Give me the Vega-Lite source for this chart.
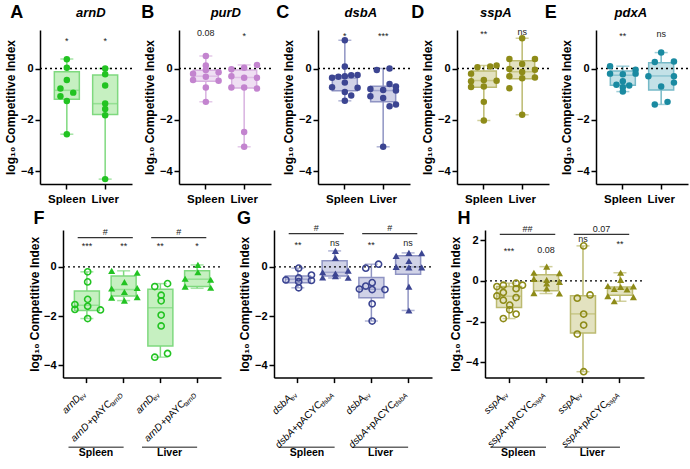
{
"$schema":"https://vega.github.io/schema/vega-lite/v6.json",
"padding":{"left":4,"top":4,"right":2,"bottom":4},
"spacing":5,
"config":{"font":"Liberation Sans","view":{"stroke":null},
"axis":{"grid":false,"domainColor":"black","domainWidth":1.5,"tickColor":"black","tickWidth":1.5,"tickSize":5,"labelColor":"black","labelFont":"Liberation Sans","labelFontWeight":"bold","labelFontSize":11,"titleFont":"Liberation Sans","titleFontSize":12,"titleFontWeight":"bold","titleColor":"black"},
"axisY":{"labelPadding":2,"titlePadding":3},
"axisX":{"labelAngle":0,"labelFontSize":11.5,"labelPadding":4},
"text":{"font":"Liberation Sans"}},
"datasets":{
"box":[
{"p":"A","g":"Spleen","lo":-2.56,"q1":-1.2,"med":-0.85,"q3":-0.13,"hi":0.37},
{"p":"A","g":"Liver","lo":-4.31,"q1":-1.79,"med":-1.37,"q3":-0.25,"hi":0.0},
{"p":"B","g":"Spleen","lo":-1.3,"q1":-0.5,"med":-0.3,"q3":-0.07,"hi":0.49},
{"p":"B","g":"Liver","lo":-3.05,"q1":-0.76,"med":-0.35,"q3":-0.06,"hi":0.14},
{"p":"C","g":"Spleen","lo":-1.26,"q1":-0.87,"med":-0.38,"q3":-0.28,"hi":1.1},
{"p":"C","g":"Liver","lo":-3.05,"q1":-1.3,"med":-0.86,"q3":-0.69,"hi":0.0},
{"p":"D","g":"Spleen","lo":-2.03,"q1":-0.73,"med":-0.47,"q3":-0.1,"hi":0.12},
{"p":"D","g":"Liver","lo":-1.8,"q1":-0.4,"med":-0.13,"q3":0.3,"hi":1.18},
{"p":"E","g":"Spleen","lo":-0.9,"q1":-0.65,"med":-0.26,"q3":-0.1,"hi":0.09},
{"p":"E","g":"Liver","lo":-1.4,"q1":-0.84,"med":-0.29,"q3":0.22,"hi":0.62},
{"p":"F","g":"Sev","lo":-2.1,"q1":-1.77,"med":-1.56,"q3":-0.98,"hi":-0.2},
{"p":"F","g":"Scomp","lo":-1.37,"q1":-1.18,"med":-0.92,"q3":-0.37,"hi":-0.16},
{"p":"F","g":"Lev","lo":-3.67,"q1":-3.22,"med":-1.66,"q3":-0.91,"hi":-0.68},
{"p":"F","g":"Lcomp","lo":-0.87,"q1":-0.8,"med":-0.5,"q3":-0.16,"hi":0.08},
{"p":"G","g":"Sev","lo":-0.85,"q1":-0.64,"med":-0.5,"q3":-0.37,"hi":-0.05},
{"p":"G","g":"Scomp","lo":-0.45,"q1":-0.37,"med":-0.22,"q3":0.25,"hi":0.65},
{"p":"G","g":"Lev","lo":-2.2,"q1":-1.25,"med":-0.91,"q3":-0.43,"hi":0.11},
{"p":"G","g":"Lcomp","lo":-1.77,"q1":-0.3,"med":0.0,"q3":0.45,"hi":0.57},
{"p":"H","g":"Sev","lo":-1.85,"q1":-1.31,"med":-0.75,"q3":-0.28,"hi":-0.11},
{"p":"H","g":"Scomp","lo":-0.62,"q1":-0.48,"med":-0.02,"q3":0.3,"hi":0.7},
{"p":"H","g":"Lev","lo":-4.46,"q1":-2.56,"med":-1.62,"q3":-0.73,"hi":1.72},
{"p":"H","g":"Lcomp","lo":-1.0,"q1":-0.7,"med":-0.4,"q3":-0.3,"hi":0.4}
],
"pts":[
{"p":"A","g":"Spleen","v":0.36,"l":0},{"p":"A","g":"Spleen","v":0.03,"l":0},{"p":"A","g":"Spleen","v":-0.45,"l":0},{"p":"A","g":"Spleen","v":-0.78,"l":-1},{"p":"A","g":"Spleen","v":-0.94,"l":1},{"p":"A","g":"Spleen","v":-1.08,"l":-1},{"p":"A","g":"Spleen","v":-1.27,"l":0},{"p":"A","g":"Spleen","v":-2.56,"l":0},
{"p":"A","g":"Liver","v":0.0,"l":0},{"p":"A","g":"Liver","v":-0.22,"l":0},{"p":"A","g":"Liver","v":-0.66,"l":0},{"p":"A","g":"Liver","v":-1.36,"l":0},{"p":"A","g":"Liver","v":-1.58,"l":0},{"p":"A","g":"Liver","v":-1.82,"l":0},{"p":"A","g":"Liver","v":-4.31,"l":0},
{"p":"B","g":"Spleen","v":0.49,"l":0},{"p":"B","g":"Spleen","v":0.12,"l":0},{"p":"B","g":"Spleen","v":-0.06,"l":0},{"p":"B","g":"Spleen","v":-0.2,"l":-2},{"p":"B","g":"Spleen","v":-0.15,"l":2},{"p":"B","g":"Spleen","v":-0.32,"l":0},{"p":"B","g":"Spleen","v":-0.45,"l":-2},{"p":"B","g":"Spleen","v":-0.48,"l":2},{"p":"B","g":"Spleen","v":-0.74,"l":0},{"p":"B","g":"Spleen","v":-1.3,"l":0},
{"p":"B","g":"Liver","v":0.14,"l":2},{"p":"B","g":"Liver","v":0.03,"l":0},{"p":"B","g":"Liver","v":-0.03,"l":-2},{"p":"B","g":"Liver","v":-0.3,"l":-2},{"p":"B","g":"Liver","v":-0.36,"l":0},{"p":"B","g":"Liver","v":-0.36,"l":2},{"p":"B","g":"Liver","v":-0.74,"l":-2},{"p":"B","g":"Liver","v":-0.74,"l":0},{"p":"B","g":"Liver","v":-0.78,"l":2},{"p":"B","g":"Liver","v":-2.47,"l":0},{"p":"B","g":"Liver","v":-3.05,"l":0},
{"p":"C","g":"Spleen","v":1.1,"l":0},{"p":"C","g":"Spleen","v":0.08,"l":0},{"p":"C","g":"Spleen","v":-0.25,"l":2},{"p":"C","g":"Spleen","v":-0.26,"l":1},{"p":"C","g":"Spleen","v":-0.3,"l":0},{"p":"C","g":"Spleen","v":-0.32,"l":-1},{"p":"C","g":"Spleen","v":-0.36,"l":-2},{"p":"C","g":"Spleen","v":-0.55,"l":0},{"p":"C","g":"Spleen","v":-0.73,"l":-2},{"p":"C","g":"Spleen","v":-0.75,"l":2},{"p":"C","g":"Spleen","v":-0.92,"l":0},{"p":"C","g":"Spleen","v":-1.05,"l":1},{"p":"C","g":"Spleen","v":-1.26,"l":0},
{"p":"C","g":"Liver","v":-0.06,"l":-1},{"p":"C","g":"Liver","v":0.0,"l":1},{"p":"C","g":"Liver","v":-0.6,"l":1},{"p":"C","g":"Liver","v":-0.7,"l":2},{"p":"C","g":"Liver","v":-0.8,"l":-2},{"p":"C","g":"Liver","v":-0.84,"l":0},{"p":"C","g":"Liver","v":-0.86,"l":2},{"p":"C","g":"Liver","v":-1.08,"l":-2},{"p":"C","g":"Liver","v":-1.15,"l":0},{"p":"C","g":"Liver","v":-1.4,"l":2},{"p":"C","g":"Liver","v":-1.47,"l":1},{"p":"C","g":"Liver","v":-3.05,"l":0},
{"p":"D","g":"Spleen","v":0.12,"l":2},{"p":"D","g":"Spleen","v":0.08,"l":1},{"p":"D","g":"Spleen","v":0.05,"l":-1},{"p":"D","g":"Spleen","v":-0.2,"l":-2},{"p":"D","g":"Spleen","v":-0.45,"l":0},{"p":"D","g":"Spleen","v":-0.5,"l":-2},{"p":"D","g":"Spleen","v":-0.48,"l":2},{"p":"D","g":"Spleen","v":-0.7,"l":0},{"p":"D","g":"Spleen","v":-0.72,"l":-2},{"p":"D","g":"Spleen","v":-1.3,"l":0},{"p":"D","g":"Spleen","v":-2.03,"l":0},
{"p":"D","g":"Liver","v":1.18,"l":0},{"p":"D","g":"Liver","v":0.37,"l":-2},{"p":"D","g":"Liver","v":0.37,"l":2},{"p":"D","g":"Liver","v":0.18,"l":0},{"p":"D","g":"Liver","v":-0.02,"l":-2},{"p":"D","g":"Liver","v":-0.05,"l":2},{"p":"D","g":"Liver","v":-0.14,"l":0},{"p":"D","g":"Liver","v":-0.3,"l":-2},{"p":"D","g":"Liver","v":-0.35,"l":2},{"p":"D","g":"Liver","v":-0.38,"l":0},{"p":"D","g":"Liver","v":-0.77,"l":-2},{"p":"D","g":"Liver","v":-1.8,"l":0},
{"p":"E","g":"Spleen","v":0.09,"l":-2},{"p":"E","g":"Spleen","v":-0.05,"l":2},{"p":"E","g":"Spleen","v":-0.2,"l":-2},{"p":"E","g":"Spleen","v":-0.22,"l":0},{"p":"E","g":"Spleen","v":-0.2,"l":2},{"p":"E","g":"Spleen","v":-0.5,"l":0},{"p":"E","g":"Spleen","v":-0.63,"l":-1},{"p":"E","g":"Spleen","v":-0.66,"l":1},{"p":"E","g":"Spleen","v":-0.73,"l":0},{"p":"E","g":"Spleen","v":-0.9,"l":0},
{"p":"E","g":"Liver","v":0.62,"l":0},{"p":"E","g":"Liver","v":0.25,"l":-1},{"p":"E","g":"Liver","v":0.27,"l":2},{"p":"E","g":"Liver","v":-0.3,"l":-2},{"p":"E","g":"Liver","v":-0.3,"l":2},{"p":"E","g":"Liver","v":-0.55,"l":2},{"p":"E","g":"Liver","v":-0.7,"l":0},{"p":"E","g":"Liver","v":-1.3,"l":1},{"p":"E","g":"Liver","v":-1.4,"l":-1},
{"p":"F","g":"Sev","v":-0.2,"l":0},{"p":"F","g":"Sev","v":-0.61,"l":0},{"p":"F","g":"Sev","v":-1.32,"l":0},{"p":"F","g":"Sev","v":-1.53,"l":-2},{"p":"F","g":"Sev","v":-1.6,"l":0},{"p":"F","g":"Sev","v":-1.73,"l":-2},{"p":"F","g":"Sev","v":-1.75,"l":2},{"p":"F","g":"Sev","v":-2.1,"l":0},
{"p":"F","g":"Scomp","v":-0.16,"l":-2},{"p":"F","g":"Scomp","v":-0.24,"l":2},{"p":"F","g":"Scomp","v":-0.62,"l":0},{"p":"F","g":"Scomp","v":-0.88,"l":-2},{"p":"F","g":"Scomp","v":-0.86,"l":2},{"p":"F","g":"Scomp","v":-1.02,"l":0},{"p":"F","g":"Scomp","v":-1.25,"l":-2},{"p":"F","g":"Scomp","v":-1.23,"l":2},{"p":"F","g":"Scomp","v":-1.37,"l":0},
{"p":"F","g":"Lev","v":-0.68,"l":1},{"p":"F","g":"Lev","v":-0.8,"l":-1},{"p":"F","g":"Lev","v":-1.15,"l":0},{"p":"F","g":"Lev","v":-1.38,"l":0},{"p":"F","g":"Lev","v":-1.96,"l":0},{"p":"F","g":"Lev","v":-2.4,"l":0},{"p":"F","g":"Lev","v":-3.52,"l":1},{"p":"F","g":"Lev","v":-3.67,"l":-1},
{"p":"F","g":"Lcomp","v":0.08,"l":0},{"p":"F","g":"Lcomp","v":-0.22,"l":0},{"p":"F","g":"Lcomp","v":-0.48,"l":-2},{"p":"F","g":"Lcomp","v":-0.52,"l":2},{"p":"F","g":"Lcomp","v":-0.8,"l":-2},{"p":"F","g":"Lcomp","v":-0.85,"l":2},
{"p":"G","g":"Sev","v":-0.05,"l":0},{"p":"G","g":"Sev","v":-0.33,"l":2},{"p":"G","g":"Sev","v":-0.45,"l":0},{"p":"G","g":"Sev","v":-0.53,"l":-2},{"p":"G","g":"Sev","v":-0.55,"l":2},{"p":"G","g":"Sev","v":-0.6,"l":0},{"p":"G","g":"Sev","v":-0.85,"l":0},
{"p":"G","g":"Scomp","v":0.65,"l":0},{"p":"G","g":"Scomp","v":0.36,"l":0},{"p":"G","g":"Scomp","v":-0.15,"l":2},{"p":"G","g":"Scomp","v":-0.22,"l":-2},{"p":"G","g":"Scomp","v":-0.27,"l":0},{"p":"G","g":"Scomp","v":-0.43,"l":-2},{"p":"G","g":"Scomp","v":-0.44,"l":2},{"p":"G","g":"Scomp","v":-0.38,"l":0},
{"p":"G","g":"Lev","v":0.11,"l":1},{"p":"G","g":"Lev","v":-0.05,"l":-1},{"p":"G","g":"Lev","v":-0.64,"l":0},{"p":"G","g":"Lev","v":-0.78,"l":-1},{"p":"G","g":"Lev","v":-0.9,"l":-2},{"p":"G","g":"Lev","v":-0.92,"l":0},{"p":"G","g":"Lev","v":-0.92,"l":2},{"p":"G","g":"Lev","v":-1.5,"l":0},{"p":"G","g":"Lev","v":-2.2,"l":0},
{"p":"G","g":"Lcomp","v":0.56,"l":2},{"p":"G","g":"Lcomp","v":0.57,"l":0},{"p":"G","g":"Lcomp","v":0.45,"l":-2},{"p":"G","g":"Lcomp","v":0.24,"l":0},{"p":"G","g":"Lcomp","v":0.0,"l":-2},{"p":"G","g":"Lcomp","v":-0.02,"l":2},{"p":"G","g":"Lcomp","v":-0.02,"l":0},{"p":"G","g":"Lcomp","v":-0.8,"l":0},{"p":"G","g":"Lcomp","v":-1.77,"l":0},
{"p":"H","g":"Sev","v":-0.11,"l":1},{"p":"H","g":"Sev","v":-0.21,"l":-1},{"p":"H","g":"Sev","v":-0.21,"l":2},{"p":"H","g":"Sev","v":-0.28,"l":-2},{"p":"H","g":"Sev","v":-0.38,"l":1},{"p":"H","g":"Sev","v":-0.57,"l":-1},{"p":"H","g":"Sev","v":-0.74,"l":-2},{"p":"H","g":"Sev","v":-0.82,"l":1},{"p":"H","g":"Sev","v":-0.95,"l":-1},{"p":"H","g":"Sev","v":-1.19,"l":0},{"p":"H","g":"Sev","v":-1.42,"l":0},{"p":"H","g":"Sev","v":-1.63,"l":1},{"p":"H","g":"Sev","v":-1.85,"l":-1},
{"p":"H","g":"Scomp","v":0.7,"l":0},{"p":"H","g":"Scomp","v":0.4,"l":-2},{"p":"H","g":"Scomp","v":0.38,"l":2},{"p":"H","g":"Scomp","v":0.1,"l":-2},{"p":"H","g":"Scomp","v":0.05,"l":0},{"p":"H","g":"Scomp","v":-0.05,"l":2},{"p":"H","g":"Scomp","v":-0.13,"l":0},{"p":"H","g":"Scomp","v":-0.37,"l":0},{"p":"H","g":"Scomp","v":-0.6,"l":-2},{"p":"H","g":"Scomp","v":-0.62,"l":2},
{"p":"H","g":"Lev","v":1.72,"l":0},{"p":"H","g":"Lev","v":-0.69,"l":1},{"p":"H","g":"Lev","v":-0.85,"l":-1},{"p":"H","g":"Lev","v":-1.63,"l":0},{"p":"H","g":"Lev","v":-2.17,"l":0},{"p":"H","g":"Lev","v":-2.61,"l":-1},{"p":"H","g":"Lev","v":-4.46,"l":0},
{"p":"H","g":"Lcomp","v":0.4,"l":0},{"p":"H","g":"Lcomp","v":0.05,"l":0},{"p":"H","g":"Lcomp","v":-0.25,"l":-2},{"p":"H","g":"Lcomp","v":-0.27,"l":2},{"p":"H","g":"Lcomp","v":-0.3,"l":0},{"p":"H","g":"Lcomp","v":-0.4,"l":-1},{"p":"H","g":"Lcomp","v":-0.42,"l":1},{"p":"H","g":"Lcomp","v":-0.75,"l":-2},{"p":"H","g":"Lcomp","v":-0.8,"l":2},{"p":"H","g":"Lcomp","v":-1.0,"l":-1}
],
"sig":[
{"p":"A","g":"Spleen","y":1.07,"t":"*"},{"p":"A","g":"Liver","y":1.07,"t":"*"},
{"p":"B","g":"Spleen","y":1.37,"t":"0.08"},{"p":"B","g":"Liver","y":1.28,"t":"*"},
{"p":"C","g":"Spleen","y":1.28,"t":"*"},{"p":"C","g":"Liver","y":1.28,"t":"***"},
{"p":"D","g":"Spleen","y":1.33,"t":"**"},{"p":"D","g":"Liver","y":1.42,"t":"ns"},
{"p":"E","g":"Spleen","y":1.26,"t":"**"},{"p":"E","g":"Liver","y":1.36,"t":"ns"},
{"p":"F","g":"Sev","y":0.84,"t":"***"},{"p":"F","g":"Scomp","y":0.84,"t":"**"},{"p":"F","g":"Lev","y":0.84,"t":"**"},{"p":"F","g":"Lcomp","y":0.84,"t":"*"},
{"p":"G","g":"Sev","y":0.9,"t":"**"},{"p":"G","g":"Scomp","y":0.99,"t":"ns"},{"p":"G","g":"Lev","y":0.9,"t":"**"},{"p":"G","g":"Lcomp","y":0.99,"t":"ns"},
{"p":"H","g":"Sev","y":1.49,"t":"***"},{"p":"H","g":"Scomp","y":1.51,"t":"0.08"},{"p":"H","g":"Lev","y":2.05,"t":"ns"},{"p":"H","g":"Lcomp","y":1.83,"t":"**"}
],
"br":[
{"p":"F","a":"Sev","b":"Scomp","y":1.19,"ty":1.4,"t":"#"},{"p":"F","a":"Lev","b":"Lcomp","y":1.19,"ty":1.4,"t":"#"},
{"p":"G","a":"Sev","b":"Scomp","y":1.35,"ty":1.57,"t":"#"},{"p":"G","a":"Lev","b":"Lcomp","y":1.35,"ty":1.57,"t":"#"},
{"p":"H","a":"Sev","b":"Scomp","y":2.29,"ty":2.54,"t":"##"},{"p":"H","a":"Lev","b":"Lcomp","y":2.29,"ty":2.54,"t":"0.07"}
],
"gr":[
{"p":"F","a":"Sev","b":"Scomp","t":"Spleen"},{"p":"F","a":"Lev","b":"Lcomp","t":"Liver"},
{"p":"G","a":"Sev","b":"Scomp","t":"Spleen"},{"p":"G","a":"Lev","b":"Lcomp","t":"Liver"},
{"p":"H","a":"Sev","b":"Scomp","t":"Spleen"},{"p":"H","a":"Lev","b":"Lcomp","t":"Liver"}
],
"zl":[
{"p":"A","v":0},{"p":"B","v":0},{"p":"C","v":0},{"p":"D","v":0},{"p":"E","v":0},
{"p":"F","a":"Sev","b":"Lcomp","v":0},{"p":"G","a":"Sev","b":"Lcomp","v":0},{"p":"H","a":"Sev","b":"Lcomp","v":0}
],
"lab":[
{"p":"F","g":"Sev","gene":"arnD","mid":"","sub":"ev"},{"p":"F","g":"Scomp","gene":"arnD","mid":"+pAYC","sub":"arnD"},{"p":"F","g":"Lev","gene":"arnD","mid":"","sub":"ev"},{"p":"F","g":"Lcomp","gene":"arnD","mid":"+pAYC","sub":"arnD"},
{"p":"G","g":"Sev","gene":"dsbA","mid":"","sub":"ev"},{"p":"G","g":"Scomp","gene":"dsbA","mid":"+pACYC","sub":"dsbA"},{"p":"G","g":"Lev","gene":"dsbA","mid":"","sub":"ev"},{"p":"G","g":"Lcomp","gene":"dsbA","mid":"+pACYC","sub":"dsbA"},
{"p":"H","g":"Sev","gene":"sspA","mid":"","sub":"ev"},{"p":"H","g":"Scomp","gene":"sspA","mid":"+pACYC","sub":"sspA"},{"p":"H","g":"Lev","gene":"sspA","mid":"","sub":"ev"},{"p":"H","g":"Lcomp","gene":"sspA","mid":"+pACYC","sub":"sspA"}
],
"ttl":[
{"p":"A","k":"L","g":"Spleen","t":"A"},{"p":"A","k":"T","g":"Spleen","t":"arnD"},
{"p":"B","k":"L","g":"Spleen","t":"B"},{"p":"B","k":"T","g":"Spleen","t":"purD"},
{"p":"C","k":"L","g":"Spleen","t":"C"},{"p":"C","k":"T","g":"Spleen","t":"dsbA"},
{"p":"D","k":"L","g":"Spleen","t":"D"},{"p":"D","k":"T","g":"Spleen","t":"sspA"},
{"p":"E","k":"L","g":"Spleen","t":"E"},{"p":"E","k":"T","g":"Spleen","t":"pdxA"},
{"p":"F","k":"L","g":"Sev","t":"F"},{"p":"G","k":"L","g":"Sev","t":"G"},{"p":"H","k":"L","g":"Sev","t":"H"}
]
},
"vconcat":[
{"hconcat":[
{"width":92,"height":154,"data":{"name":"box"},"transform":[{"filter":"datum.p=='A'"}],
"layer":[
{"mark":{"type":"rule","color":"#7fd97f","strokeWidth":1.5},"encoding":{"x":{"field":"g","type":"nominal","title":null,"scale":{"domain":["Spleen","Liver"],"paddingInner":0,"paddingOuter":0.2}},"y":{"field":"lo","type":"quantitative","title":"log₁₀ Competitive Index","scale":{"domain":[-4.5,1.5],"nice":false,"zero":false},"axis":{"values":[-4,-3,-2,-1,0,1]}},"y2":{"field":"hi"}}},
{"mark":{"type":"tick","color":"#7fd97f","thickness":1.5,"size":13},"encoding":{"x":{"field":"g","type":"nominal","title":null},"y":{"field":"lo","type":"quantitative","title":"log₁₀ Competitive Index"}}},
{"mark":{"type":"tick","color":"#7fd97f","thickness":1.5,"size":13},"encoding":{"x":{"field":"g","type":"nominal","title":null},"y":{"field":"hi","type":"quantitative","title":"log₁₀ Competitive Index"}}},
{"mark":{"type":"bar","fill":"#c6f0c1","stroke":"#7fd97f","strokeWidth":1.5,"size":25},"encoding":{"x":{"field":"g","type":"nominal","title":null},"y":{"field":"q1","type":"quantitative","title":"log₁₀ Competitive Index"},"y2":{"field":"q3"}}},
{"mark":{"type":"tick","color":"#7fd97f","thickness":1.5,"size":25},"encoding":{"x":{"field":"g","type":"nominal","title":null},"y":{"field":"med","type":"quantitative","title":"log₁₀ Competitive Index"}}},
{"data":{"name":"zl"},"transform":[{"filter":"datum.p=='A'"}],"mark":{"type":"rule","strokeDash":[2,3],"color":"black","strokeWidth":1.3},"encoding":{"y":{"field":"v","type":"quantitative","title":"log₁₀ Competitive Index"}}},
{"data":{"name":"pts"},"transform":[{"filter":"datum.p=='A'"}],"mark":{"type":"point","shape":"circle","filled":true,"size":42,"color":"#22c322","opacity":1},"encoding":{"x":{"field":"g","type":"nominal","title":null},"xOffset":{"field":"l","type":"ordinal","scale":{"domain":[-2,-1,0,1,2],"paddingInner":0,"paddingOuter":1.25}},"y":{"field":"v","type":"quantitative","title":"log₁₀ Competitive Index"}}},
{"data":{"name":"sig"},"transform":[{"filter":"datum.p=='A'"}],"mark":{"type":"text","fontSize":9,"color":"#222","baseline":"middle"},"encoding":{"x":{"field":"g","type":"nominal","title":null},"y":{"field":"y","type":"quantitative","title":"log₁₀ Competitive Index"},"text":{"field":"t"}}},
{"data":{"name":"ttl"},"transform":[{"filter":"datum.p=='A' && datum.k=='L'"}],"mark":{"type":"text","fontSize":18,"fontWeight":"bold","color":"black","baseline":"middle","dx":-50,"dy":-17},"encoding":{"x":{"field":"g","type":"nominal","title":null},"y":{"datum":1.5,"title":"log₁₀ Competitive Index"},"text":{"field":"t"}}},
{"data":{"name":"ttl"},"transform":[{"filter":"datum.p=='A' && datum.k=='T'"}],"mark":{"type":"text","fontSize":13,"fontWeight":"bold","fontStyle":"italic","color":"black","baseline":"middle","dx":24,"dy":-17},"encoding":{"x":{"field":"g","type":"nominal","title":null},"y":{"datum":1.5,"title":"log₁₀ Competitive Index"},"text":{"field":"t"}}}
]},
{"width":92,"height":154,"data":{"name":"box"},"transform":[{"filter":"datum.p=='B'"}],
"layer":[
{"mark":{"type":"rule","color":"#d8b2e0","strokeWidth":1.5},"encoding":{"x":{"field":"g","type":"nominal","title":null,"scale":{"domain":["Spleen","Liver"],"paddingInner":0,"paddingOuter":0.2}},"y":{"field":"lo","type":"quantitative","title":"log₁₀ Competitive Index","scale":{"domain":[-4.5,1.5],"nice":false,"zero":false},"axis":{"values":[-4,-3,-2,-1,0,1]}},"y2":{"field":"hi"}}},
{"mark":{"type":"tick","color":"#d8b2e0","thickness":1.5,"size":13},"encoding":{"x":{"field":"g","type":"nominal","title":null},"y":{"field":"lo","type":"quantitative","title":"log₁₀ Competitive Index"}}},
{"mark":{"type":"tick","color":"#d8b2e0","thickness":1.5,"size":13},"encoding":{"x":{"field":"g","type":"nominal","title":null},"y":{"field":"hi","type":"quantitative","title":"log₁₀ Competitive Index"}}},
{"mark":{"type":"bar","fill":"#efdff3","stroke":"#d8b2e0","strokeWidth":1.5,"size":25},"encoding":{"x":{"field":"g","type":"nominal","title":null},"y":{"field":"q1","type":"quantitative","title":"log₁₀ Competitive Index"},"y2":{"field":"q3"}}},
{"mark":{"type":"tick","color":"#d8b2e0","thickness":1.5,"size":25},"encoding":{"x":{"field":"g","type":"nominal","title":null},"y":{"field":"med","type":"quantitative","title":"log₁₀ Competitive Index"}}},
{"data":{"name":"zl"},"transform":[{"filter":"datum.p=='B'"}],"mark":{"type":"rule","strokeDash":[2,3],"color":"black","strokeWidth":1.3},"encoding":{"y":{"field":"v","type":"quantitative","title":"log₁₀ Competitive Index"}}},
{"data":{"name":"pts"},"transform":[{"filter":"datum.p=='B'"}],"mark":{"type":"point","shape":"circle","filled":true,"size":42,"color":"#c384cf","opacity":1},"encoding":{"x":{"field":"g","type":"nominal","title":null},"xOffset":{"field":"l","type":"ordinal","scale":{"domain":[-2,-1,0,1,2],"paddingInner":0,"paddingOuter":1.25}},"y":{"field":"v","type":"quantitative","title":"log₁₀ Competitive Index"}}},
{"data":{"name":"sig"},"transform":[{"filter":"datum.p=='B'"}],"mark":{"type":"text","fontSize":9,"color":"#222","baseline":"middle"},"encoding":{"x":{"field":"g","type":"nominal","title":null},"y":{"field":"y","type":"quantitative","title":"log₁₀ Competitive Index"},"text":{"field":"t"}}},
{"data":{"name":"ttl"},"transform":[{"filter":"datum.p=='B' && datum.k=='L'"}],"mark":{"type":"text","fontSize":18,"fontWeight":"bold","color":"black","baseline":"middle","dx":-58,"dy":-17},"encoding":{"x":{"field":"g","type":"nominal","title":null},"y":{"datum":1.5,"title":"log₁₀ Competitive Index"},"text":{"field":"t"}}},
{"data":{"name":"ttl"},"transform":[{"filter":"datum.p=='B' && datum.k=='T'"}],"mark":{"type":"text","fontSize":13,"fontWeight":"bold","fontStyle":"italic","color":"black","baseline":"middle","dx":20,"dy":-17},"encoding":{"x":{"field":"g","type":"nominal","title":null},"y":{"datum":1.5,"title":"log₁₀ Competitive Index"},"text":{"field":"t"}}}
]},
{"width":92,"height":154,"data":{"name":"box"},"transform":[{"filter":"datum.p=='C'"}],
"layer":[
{"mark":{"type":"rule","color":"#8f94c3","strokeWidth":1.5},"encoding":{"x":{"field":"g","type":"nominal","title":null,"scale":{"domain":["Spleen","Liver"],"paddingInner":0,"paddingOuter":0.2}},"y":{"field":"lo","type":"quantitative","title":"log₁₀ Competitive Index","scale":{"domain":[-4.5,1.5],"nice":false,"zero":false},"axis":{"values":[-4,-3,-2,-1,0,1]}},"y2":{"field":"hi"}}},
{"mark":{"type":"tick","color":"#8f94c3","thickness":1.5,"size":13},"encoding":{"x":{"field":"g","type":"nominal","title":null},"y":{"field":"lo","type":"quantitative","title":"log₁₀ Competitive Index"}}},
{"mark":{"type":"tick","color":"#8f94c3","thickness":1.5,"size":13},"encoding":{"x":{"field":"g","type":"nominal","title":null},"y":{"field":"hi","type":"quantitative","title":"log₁₀ Competitive Index"}}},
{"mark":{"type":"bar","fill":"#d0d2e7","stroke":"#8f94c3","strokeWidth":1.5,"size":25},"encoding":{"x":{"field":"g","type":"nominal","title":null},"y":{"field":"q1","type":"quantitative","title":"log₁₀ Competitive Index"},"y2":{"field":"q3"}}},
{"mark":{"type":"tick","color":"#8f94c3","thickness":1.5,"size":25},"encoding":{"x":{"field":"g","type":"nominal","title":null},"y":{"field":"med","type":"quantitative","title":"log₁₀ Competitive Index"}}},
{"data":{"name":"zl"},"transform":[{"filter":"datum.p=='C'"}],"mark":{"type":"rule","strokeDash":[2,3],"color":"black","strokeWidth":1.3},"encoding":{"y":{"field":"v","type":"quantitative","title":"log₁₀ Competitive Index"}}},
{"data":{"name":"pts"},"transform":[{"filter":"datum.p=='C'"}],"mark":{"type":"point","shape":"circle","filled":true,"size":42,"color":"#3c4592","opacity":1},"encoding":{"x":{"field":"g","type":"nominal","title":null},"xOffset":{"field":"l","type":"ordinal","scale":{"domain":[-2,-1,0,1,2],"paddingInner":0,"paddingOuter":1.25}},"y":{"field":"v","type":"quantitative","title":"log₁₀ Competitive Index"}}},
{"data":{"name":"sig"},"transform":[{"filter":"datum.p=='C'"}],"mark":{"type":"text","fontSize":9,"color":"#222","baseline":"middle"},"encoding":{"x":{"field":"g","type":"nominal","title":null},"y":{"field":"y","type":"quantitative","title":"log₁₀ Competitive Index"},"text":{"field":"t"}}},
{"data":{"name":"ttl"},"transform":[{"filter":"datum.p=='C' && datum.k=='L'"}],"mark":{"type":"text","fontSize":18,"fontWeight":"bold","color":"black","baseline":"middle","dx":-62,"dy":-17},"encoding":{"x":{"field":"g","type":"nominal","title":null},"y":{"datum":1.5,"title":"log₁₀ Competitive Index"},"text":{"field":"t"}}},
{"data":{"name":"ttl"},"transform":[{"filter":"datum.p=='C' && datum.k=='T'"}],"mark":{"type":"text","fontSize":13,"fontWeight":"bold","fontStyle":"italic","color":"black","baseline":"middle","dx":16,"dy":-17},"encoding":{"x":{"field":"g","type":"nominal","title":null},"y":{"datum":1.5,"title":"log₁₀ Competitive Index"},"text":{"field":"t"}}}
]},
{"width":92,"height":154,"data":{"name":"box"},"transform":[{"filter":"datum.p=='D'"}],
"layer":[
{"mark":{"type":"rule","color":"#bcba70","strokeWidth":1.5},"encoding":{"x":{"field":"g","type":"nominal","title":null,"scale":{"domain":["Spleen","Liver"],"paddingInner":0,"paddingOuter":0.2}},"y":{"field":"lo","type":"quantitative","title":"log₁₀ Competitive Index","scale":{"domain":[-4.5,1.5],"nice":false,"zero":false},"axis":{"values":[-4,-3,-2,-1,0,1]}},"y2":{"field":"hi"}}},
{"mark":{"type":"tick","color":"#bcba70","thickness":1.5,"size":13},"encoding":{"x":{"field":"g","type":"nominal","title":null},"y":{"field":"lo","type":"quantitative","title":"log₁₀ Competitive Index"}}},
{"mark":{"type":"tick","color":"#bcba70","thickness":1.5,"size":13},"encoding":{"x":{"field":"g","type":"nominal","title":null},"y":{"field":"hi","type":"quantitative","title":"log₁₀ Competitive Index"}}},
{"mark":{"type":"bar","fill":"#e3e2c0","stroke":"#bcba70","strokeWidth":1.5,"size":25},"encoding":{"x":{"field":"g","type":"nominal","title":null},"y":{"field":"q1","type":"quantitative","title":"log₁₀ Competitive Index"},"y2":{"field":"q3"}}},
{"mark":{"type":"tick","color":"#bcba70","thickness":1.5,"size":25},"encoding":{"x":{"field":"g","type":"nominal","title":null},"y":{"field":"med","type":"quantitative","title":"log₁₀ Competitive Index"}}},
{"data":{"name":"zl"},"transform":[{"filter":"datum.p=='D'"}],"mark":{"type":"rule","strokeDash":[2,3],"color":"black","strokeWidth":1.3},"encoding":{"y":{"field":"v","type":"quantitative","title":"log₁₀ Competitive Index"}}},
{"data":{"name":"pts"},"transform":[{"filter":"datum.p=='D'"}],"mark":{"type":"point","shape":"circle","filled":true,"size":42,"color":"#8e8b18","opacity":1},"encoding":{"x":{"field":"g","type":"nominal","title":null},"xOffset":{"field":"l","type":"ordinal","scale":{"domain":[-2,-1,0,1,2],"paddingInner":0,"paddingOuter":1.25}},"y":{"field":"v","type":"quantitative","title":"log₁₀ Competitive Index"}}},
{"data":{"name":"sig"},"transform":[{"filter":"datum.p=='D'"}],"mark":{"type":"text","fontSize":9,"color":"#222","baseline":"middle"},"encoding":{"x":{"field":"g","type":"nominal","title":null},"y":{"field":"y","type":"quantitative","title":"log₁₀ Competitive Index"},"text":{"field":"t"}}},
{"data":{"name":"ttl"},"transform":[{"filter":"datum.p=='D' && datum.k=='L'"}],"mark":{"type":"text","fontSize":18,"fontWeight":"bold","color":"black","baseline":"middle","dx":-66,"dy":-17},"encoding":{"x":{"field":"g","type":"nominal","title":null},"y":{"datum":1.5,"title":"log₁₀ Competitive Index"},"text":{"field":"t"}}},
{"data":{"name":"ttl"},"transform":[{"filter":"datum.p=='D' && datum.k=='T'"}],"mark":{"type":"text","fontSize":13,"fontWeight":"bold","fontStyle":"italic","color":"black","baseline":"middle","dx":12,"dy":-17},"encoding":{"x":{"field":"g","type":"nominal","title":null},"y":{"datum":1.5,"title":"log₁₀ Competitive Index"},"text":{"field":"t"}}}
]},
{"width":92,"height":154,"data":{"name":"box"},"transform":[{"filter":"datum.p=='E'"}],
"layer":[
{"mark":{"type":"rule","color":"#76b9c7","strokeWidth":1.5},"encoding":{"x":{"field":"g","type":"nominal","title":null,"scale":{"domain":["Spleen","Liver"],"paddingInner":0,"paddingOuter":0.2}},"y":{"field":"lo","type":"quantitative","title":"log₁₀ Competitive Index","scale":{"domain":[-4.5,1.5],"nice":false,"zero":false},"axis":{"values":[-4,-3,-2,-1,0,1]}},"y2":{"field":"hi"}}},
{"mark":{"type":"tick","color":"#76b9c7","thickness":1.5,"size":13},"encoding":{"x":{"field":"g","type":"nominal","title":null},"y":{"field":"lo","type":"quantitative","title":"log₁₀ Competitive Index"}}},
{"mark":{"type":"tick","color":"#76b9c7","thickness":1.5,"size":13},"encoding":{"x":{"field":"g","type":"nominal","title":null},"y":{"field":"hi","type":"quantitative","title":"log₁₀ Competitive Index"}}},
{"mark":{"type":"bar","fill":"#c3e1e7","stroke":"#76b9c7","strokeWidth":1.5,"size":25},"encoding":{"x":{"field":"g","type":"nominal","title":null},"y":{"field":"q1","type":"quantitative","title":"log₁₀ Competitive Index"},"y2":{"field":"q3"}}},
{"mark":{"type":"tick","color":"#76b9c7","thickness":1.5,"size":25},"encoding":{"x":{"field":"g","type":"nominal","title":null},"y":{"field":"med","type":"quantitative","title":"log₁₀ Competitive Index"}}},
{"data":{"name":"zl"},"transform":[{"filter":"datum.p=='E'"}],"mark":{"type":"rule","strokeDash":[2,3],"color":"black","strokeWidth":1.3},"encoding":{"y":{"field":"v","type":"quantitative","title":"log₁₀ Competitive Index"}}},
{"data":{"name":"pts"},"transform":[{"filter":"datum.p=='E'"}],"mark":{"type":"point","shape":"circle","filled":true,"size":42,"color":"#1a8aa1","opacity":1},"encoding":{"x":{"field":"g","type":"nominal","title":null},"xOffset":{"field":"l","type":"ordinal","scale":{"domain":[-2,-1,0,1,2],"paddingInner":0,"paddingOuter":1.25}},"y":{"field":"v","type":"quantitative","title":"log₁₀ Competitive Index"}}},
{"data":{"name":"sig"},"transform":[{"filter":"datum.p=='E'"}],"mark":{"type":"text","fontSize":9,"color":"#222","baseline":"middle"},"encoding":{"x":{"field":"g","type":"nominal","title":null},"y":{"field":"y","type":"quantitative","title":"log₁₀ Competitive Index"},"text":{"field":"t"}}},
{"data":{"name":"ttl"},"transform":[{"filter":"datum.p=='E' && datum.k=='L'"}],"mark":{"type":"text","fontSize":18,"fontWeight":"bold","color":"black","baseline":"middle","dx":-72,"dy":-17},"encoding":{"x":{"field":"g","type":"nominal","title":null},"y":{"datum":1.5,"title":"log₁₀ Competitive Index"},"text":{"field":"t"}}},
{"data":{"name":"ttl"},"transform":[{"filter":"datum.p=='E' && datum.k=='T'"}],"mark":{"type":"text","fontSize":13,"fontWeight":"bold","fontStyle":"italic","color":"black","baseline":"middle","dx":8,"dy":-17},"encoding":{"x":{"field":"g","type":"nominal","title":null},"y":{"datum":1.5,"title":"log₁₀ Competitive Index"},"text":{"field":"t"}}}
]}
],"spacing":47,"bounds":"flush"},
{"hconcat":[
{"width":187,"height":147.6,"data":{"name":"box"},"transform":[{"filter":"datum.p=='F'"}],
"layer":[
{"mark":{"type":"rule","color":"#7fd97f","strokeWidth":1.5},"encoding":{"x":{"field":"g","type":"nominal","title":null,"scale":{"domain":["Sev","Scomp","Lev","Lcomp"],"range":[23,181],"paddingInner":0,"paddingOuter":0.15},"axis":{"labels":false}},"y":{"field":"lo","type":"quantitative","title":"log₁₀ Competitive Index","scale":{"domain":[-4.5,1.5],"nice":false,"zero":false},"axis":{"values":[-4,-3,-2,-1,0,1],"offset":-23,"minExtent":0,"maxExtent":19}},"y2":{"field":"hi"}}},
{"mark":{"type":"tick","color":"#7fd97f","thickness":1.5,"size":13},"encoding":{"x":{"field":"g","type":"nominal","title":null},"y":{"field":"lo","type":"quantitative","title":"log₁₀ Competitive Index"}}},
{"mark":{"type":"tick","color":"#7fd97f","thickness":1.5,"size":13},"encoding":{"x":{"field":"g","type":"nominal","title":null},"y":{"field":"hi","type":"quantitative","title":"log₁₀ Competitive Index"}}},
{"mark":{"type":"bar","fill":"#c6f0c1","stroke":"#7fd97f","strokeWidth":1.5,"size":25},"encoding":{"x":{"field":"g","type":"nominal","title":null},"y":{"field":"q1","type":"quantitative","title":"log₁₀ Competitive Index"},"y2":{"field":"q3"}}},
{"mark":{"type":"tick","color":"#7fd97f","thickness":1.5,"size":25},"encoding":{"x":{"field":"g","type":"nominal","title":null},"y":{"field":"med","type":"quantitative","title":"log₁₀ Competitive Index"}}},
{"data":{"name":"zl"},"transform":[{"filter":"datum.p=='F'"}],"mark":{"type":"rule","strokeDash":[2,3],"color":"black","strokeWidth":1.3},"encoding":{"x":{"field":"a","type":"nominal","title":null,"bandPosition":-0.15},"x2":{"field":"b","bandPosition":1.15},"y":{"field":"v","type":"quantitative","title":"log₁₀ Competitive Index"}}},
{"data":{"name":"pts"},"transform":[{"filter":"datum.p=='F' && (datum.g=='Sev' || datum.g=='Lev')"}],"mark":{"type":"point","shape":"circle","filled":false,"strokeWidth":1.6,"size":38,"color":"#22c322","opacity":1},"encoding":{"x":{"field":"g","type":"nominal","title":null},"xOffset":{"field":"l","type":"ordinal","scale":{"domain":[-2,-1,0,1,2],"paddingInner":0,"paddingOuter":1.25}},"y":{"field":"v","type":"quantitative","title":"log₁₀ Competitive Index"}}},
{"data":{"name":"pts"},"transform":[{"filter":"datum.p=='F' && (datum.g=='Scomp' || datum.g=='Lcomp')"}],"mark":{"type":"point","shape":"triangle-up","filled":true,"size":50,"color":"#22c322","opacity":1},"encoding":{"x":{"field":"g","type":"nominal","title":null},"xOffset":{"field":"l","type":"ordinal","scale":{"domain":[-2,-1,0,1,2],"paddingInner":0,"paddingOuter":1.25}},"y":{"field":"v","type":"quantitative","title":"log₁₀ Competitive Index"}}},
{"data":{"name":"sig"},"transform":[{"filter":"datum.p=='F'"}],"mark":{"type":"text","fontSize":9,"color":"#222","baseline":"middle"},"encoding":{"x":{"field":"g","type":"nominal","title":null},"y":{"field":"y","type":"quantitative","title":"log₁₀ Competitive Index"},"text":{"field":"t"}}},
{"data":{"name":"br"},"transform":[{"filter":"datum.p=='F'"}],"mark":{"type":"rule","color":"#333","strokeWidth":1.2},"encoding":{"x":{"field":"a","type":"nominal","title":null,"bandPosition":0.25},"x2":{"field":"b","bandPosition":0.75},"y":{"field":"y","type":"quantitative","title":"log₁₀ Competitive Index"}}},
{"data":{"name":"br"},"transform":[{"filter":"datum.p=='F'"}],"mark":{"type":"text","fontSize":9,"color":"#222","baseline":"middle"},"encoding":{"x":{"field":"a","type":"nominal","title":null,"bandPosition":1},"y":{"field":"ty","type":"quantitative","title":"log₁₀ Competitive Index"},"text":{"field":"t"}}},
{"data":{"name":"gr"},"transform":[{"filter":"datum.p=='F'"}],"mark":{"type":"rule","color":"#666","strokeWidth":1.5},"encoding":{"x":{"field":"a","type":"nominal","title":null,"bandPosition":0},"x2":{"field":"b","bandPosition":0.5},"y":{"datum":-7.33,"title":"log₁₀ Competitive Index"}}},
{"data":{"name":"gr"},"transform":[{"filter":"datum.p=='F'"}],"mark":{"type":"text","fontSize":10.5,"fontWeight":"bold","color":"black","baseline":"middle","dy":6},"encoding":{"x":{"field":"a","type":"nominal","title":null,"bandPosition":0.75},"y":{"datum":-7.33,"title":"log₁₀ Competitive Index"},"text":{"field":"t"}}},
{"data":{"name":"lab"},"transform":[{"filter":"datum.p=='F' && datum.sub=='ev'"}],"mark":{"type":"text","angle":-45,"align":"right","baseline":"middle","fontSize":10,"fontStyle":"italic","color":"black","dx":-19,"dy":8},"encoding":{"x":{"field":"g","type":"nominal","title":null},"y":{"datum":-4.5,"title":"log₁₀ Competitive Index"},"text":{"field":"gene"}}},
{"data":{"name":"lab"},"transform":[{"filter":"datum.p=='F' && datum.sub=='ev'"}],"mark":{"type":"text","angle":-45,"align":"right","baseline":"middle","fontSize":7,"color":"black","dx":-13,"dy":11},"encoding":{"x":{"field":"g","type":"nominal","title":null},"y":{"datum":-4.5,"title":"log₁₀ Competitive Index"},"text":{"field":"sub"}}},
{"data":{"name":"lab"},"transform":[{"filter":"datum.p=='F' && datum.sub!='ev'"}],"mark":{"type":"text","angle":-45,"align":"right","baseline":"middle","fontSize":10,"fontStyle":"italic","color":"black","dx":-58.7,"dy":8},"encoding":{"x":{"field":"g","type":"nominal","title":null},"y":{"datum":-4.5,"title":"log₁₀ Competitive Index"},"text":{"field":"gene"}}},
{"data":{"name":"lab"},"transform":[{"filter":"datum.p=='F' && datum.sub!='ev'"}],"mark":{"type":"text","angle":-45,"align":"right","baseline":"middle","fontSize":10,"color":"black","dx":-26.7,"dy":8},"encoding":{"x":{"field":"g","type":"nominal","title":null},"y":{"datum":-4.5,"title":"log₁₀ Competitive Index"},"text":{"field":"mid"}}},
{"data":{"name":"lab"},"transform":[{"filter":"datum.p=='F' && datum.sub!='ev'"}],"mark":{"type":"text","angle":-45,"align":"right","baseline":"middle","fontSize":7,"fontStyle":"italic","color":"black","dx":-13,"dy":11},"encoding":{"x":{"field":"g","type":"nominal","title":null},"y":{"datum":-4.5,"title":"log₁₀ Competitive Index"},"text":{"field":"sub"}}},
{"data":{"name":"ttl"},"transform":[{"filter":"datum.p=='F'"}],"mark":{"type":"text","fontSize":18,"fontWeight":"bold","color":"black","baseline":"middle","dx":-48,"dy":-11},"encoding":{"x":{"field":"g","type":"nominal","title":null},"y":{"datum":1.5,"title":"log₁₀ Competitive Index"},"text":{"field":"t"}}}
]},
{"width":164,"height":147.6,"data":{"name":"box"},"transform":[{"filter":"datum.p=='G'"}],
"layer":[
{"mark":{"type":"rule","color":"#8f94c3","strokeWidth":1.5},"encoding":{"x":{"field":"g","type":"nominal","title":null,"scale":{"domain":["Sev","Scomp","Lev","Lcomp"],"range":[0,158],"paddingInner":0,"paddingOuter":0.15},"axis":{"labels":false}},"y":{"field":"lo","type":"quantitative","title":"log₁₀ Competitive Index","scale":{"domain":[-4.5,1.5],"nice":false,"zero":false},"axis":{"values":[-4,-3,-2,-1,0,1]}},"y2":{"field":"hi"}}},
{"mark":{"type":"tick","color":"#8f94c3","thickness":1.5,"size":13},"encoding":{"x":{"field":"g","type":"nominal","title":null},"y":{"field":"lo","type":"quantitative","title":"log₁₀ Competitive Index"}}},
{"mark":{"type":"tick","color":"#8f94c3","thickness":1.5,"size":13},"encoding":{"x":{"field":"g","type":"nominal","title":null},"y":{"field":"hi","type":"quantitative","title":"log₁₀ Competitive Index"}}},
{"mark":{"type":"bar","fill":"#d0d2e7","stroke":"#8f94c3","strokeWidth":1.5,"size":25},"encoding":{"x":{"field":"g","type":"nominal","title":null},"y":{"field":"q1","type":"quantitative","title":"log₁₀ Competitive Index"},"y2":{"field":"q3"}}},
{"mark":{"type":"tick","color":"#8f94c3","thickness":1.5,"size":25},"encoding":{"x":{"field":"g","type":"nominal","title":null},"y":{"field":"med","type":"quantitative","title":"log₁₀ Competitive Index"}}},
{"data":{"name":"zl"},"transform":[{"filter":"datum.p=='G'"}],"mark":{"type":"rule","strokeDash":[2,3],"color":"black","strokeWidth":1.3},"encoding":{"x":{"field":"a","type":"nominal","title":null,"bandPosition":-0.15},"x2":{"field":"b","bandPosition":1.15},"y":{"field":"v","type":"quantitative","title":"log₁₀ Competitive Index"}}},
{"data":{"name":"pts"},"transform":[{"filter":"datum.p=='G' && (datum.g=='Sev' || datum.g=='Lev')"}],"mark":{"type":"point","shape":"circle","filled":false,"strokeWidth":1.6,"size":38,"color":"#3c4592","opacity":1},"encoding":{"x":{"field":"g","type":"nominal","title":null},"xOffset":{"field":"l","type":"ordinal","scale":{"domain":[-2,-1,0,1,2],"paddingInner":0,"paddingOuter":1.25}},"y":{"field":"v","type":"quantitative","title":"log₁₀ Competitive Index"}}},
{"data":{"name":"pts"},"transform":[{"filter":"datum.p=='G' && (datum.g=='Scomp' || datum.g=='Lcomp')"}],"mark":{"type":"point","shape":"triangle-up","filled":true,"size":50,"color":"#3c4592","opacity":1},"encoding":{"x":{"field":"g","type":"nominal","title":null},"xOffset":{"field":"l","type":"ordinal","scale":{"domain":[-2,-1,0,1,2],"paddingInner":0,"paddingOuter":1.25}},"y":{"field":"v","type":"quantitative","title":"log₁₀ Competitive Index"}}},
{"data":{"name":"sig"},"transform":[{"filter":"datum.p=='G'"}],"mark":{"type":"text","fontSize":9,"color":"#222","baseline":"middle"},"encoding":{"x":{"field":"g","type":"nominal","title":null},"y":{"field":"y","type":"quantitative","title":"log₁₀ Competitive Index"},"text":{"field":"t"}}},
{"data":{"name":"br"},"transform":[{"filter":"datum.p=='G'"}],"mark":{"type":"rule","color":"#333","strokeWidth":1.2},"encoding":{"x":{"field":"a","type":"nominal","title":null,"bandPosition":0.25},"x2":{"field":"b","bandPosition":0.75},"y":{"field":"y","type":"quantitative","title":"log₁₀ Competitive Index"}}},
{"data":{"name":"br"},"transform":[{"filter":"datum.p=='G'"}],"mark":{"type":"text","fontSize":9,"color":"#222","baseline":"middle"},"encoding":{"x":{"field":"a","type":"nominal","title":null,"bandPosition":1},"y":{"field":"ty","type":"quantitative","title":"log₁₀ Competitive Index"},"text":{"field":"t"}}},
{"data":{"name":"gr"},"transform":[{"filter":"datum.p=='G'"}],"mark":{"type":"rule","color":"#666","strokeWidth":1.5},"encoding":{"x":{"field":"a","type":"nominal","title":null,"bandPosition":0},"x2":{"field":"b","bandPosition":0.5},"y":{"datum":-7.33,"title":"log₁₀ Competitive Index"}}},
{"data":{"name":"gr"},"transform":[{"filter":"datum.p=='G'"}],"mark":{"type":"text","fontSize":10.5,"fontWeight":"bold","color":"black","baseline":"middle","dy":6},"encoding":{"x":{"field":"a","type":"nominal","title":null,"bandPosition":0.75},"y":{"datum":-7.33,"title":"log₁₀ Competitive Index"},"text":{"field":"t"}}},
{"data":{"name":"lab"},"transform":[{"filter":"datum.p=='G' && datum.sub=='ev'"}],"mark":{"type":"text","angle":-45,"align":"right","baseline":"middle","fontSize":10,"fontStyle":"italic","color":"black","dx":-19,"dy":8},"encoding":{"x":{"field":"g","type":"nominal","title":null},"y":{"datum":-4.5,"title":"log₁₀ Competitive Index"},"text":{"field":"gene"}}},
{"data":{"name":"lab"},"transform":[{"filter":"datum.p=='G' && datum.sub=='ev'"}],"mark":{"type":"text","angle":-45,"align":"right","baseline":"middle","fontSize":7,"color":"black","dx":-13,"dy":11},"encoding":{"x":{"field":"g","type":"nominal","title":null},"y":{"datum":-4.5,"title":"log₁₀ Competitive Index"},"text":{"field":"sub"}}},
{"data":{"name":"lab"},"transform":[{"filter":"datum.p=='G' && datum.sub!='ev'"}],"mark":{"type":"text","angle":-45,"align":"right","baseline":"middle","fontSize":10,"fontStyle":"italic","color":"black","dx":-66.7,"dy":8},"encoding":{"x":{"field":"g","type":"nominal","title":null},"y":{"datum":-4.5,"title":"log₁₀ Competitive Index"},"text":{"field":"gene"}}},
{"data":{"name":"lab"},"transform":[{"filter":"datum.p=='G' && datum.sub!='ev'"}],"mark":{"type":"text","angle":-45,"align":"right","baseline":"middle","fontSize":10,"color":"black","dx":-27.5,"dy":8},"encoding":{"x":{"field":"g","type":"nominal","title":null},"y":{"datum":-4.5,"title":"log₁₀ Competitive Index"},"text":{"field":"mid"}}},
{"data":{"name":"lab"},"transform":[{"filter":"datum.p=='G' && datum.sub!='ev'"}],"mark":{"type":"text","angle":-45,"align":"right","baseline":"middle","fontSize":7,"fontStyle":"italic","color":"black","dx":-13,"dy":11},"encoding":{"x":{"field":"g","type":"nominal","title":null},"y":{"datum":-4.5,"title":"log₁₀ Competitive Index"},"text":{"field":"sub"}}},
{"data":{"name":"ttl"},"transform":[{"filter":"datum.p=='G'"}],"mark":{"type":"text","fontSize":18,"fontWeight":"bold","color":"black","baseline":"middle","dx":-54,"dy":-11},"encoding":{"x":{"field":"g","type":"nominal","title":null},"y":{"datum":1.5,"title":"log₁₀ Competitive Index"},"text":{"field":"t"}}}
]},
{"width":159,"height":147.6,"data":{"name":"box"},"transform":[{"filter":"datum.p=='H'"}],
"layer":[
{"mark":{"type":"rule","color":"#bcba70","strokeWidth":1.5},"encoding":{"x":{"field":"g","type":"nominal","title":null,"scale":{"domain":["Sev","Scomp","Lev","Lcomp"],"paddingInner":0,"paddingOuter":0.15},"axis":{"labels":false}},"y":{"field":"lo","type":"quantitative","title":"log₁₀ Competitive Index","scale":{"domain":[-4.75,2.5],"nice":false,"zero":false},"axis":{"values":[-4,-3,-2,-1,0,1,2]}},"y2":{"field":"hi"}}},
{"mark":{"type":"tick","color":"#bcba70","thickness":1.5,"size":13},"encoding":{"x":{"field":"g","type":"nominal","title":null},"y":{"field":"lo","type":"quantitative","title":"log₁₀ Competitive Index"}}},
{"mark":{"type":"tick","color":"#bcba70","thickness":1.5,"size":13},"encoding":{"x":{"field":"g","type":"nominal","title":null},"y":{"field":"hi","type":"quantitative","title":"log₁₀ Competitive Index"}}},
{"mark":{"type":"bar","fill":"#e3e2c0","stroke":"#bcba70","strokeWidth":1.5,"size":25},"encoding":{"x":{"field":"g","type":"nominal","title":null},"y":{"field":"q1","type":"quantitative","title":"log₁₀ Competitive Index"},"y2":{"field":"q3"}}},
{"mark":{"type":"tick","color":"#bcba70","thickness":1.5,"size":25},"encoding":{"x":{"field":"g","type":"nominal","title":null},"y":{"field":"med","type":"quantitative","title":"log₁₀ Competitive Index"}}},
{"data":{"name":"zl"},"transform":[{"filter":"datum.p=='H'"}],"mark":{"type":"rule","strokeDash":[2,3],"color":"black","strokeWidth":1.3},"encoding":{"x":{"field":"a","type":"nominal","title":null,"bandPosition":-0.15},"x2":{"field":"b","bandPosition":1.15},"y":{"field":"v","type":"quantitative","title":"log₁₀ Competitive Index"}}},
{"data":{"name":"pts"},"transform":[{"filter":"datum.p=='H' && (datum.g=='Sev' || datum.g=='Lev')"}],"mark":{"type":"point","shape":"circle","filled":false,"strokeWidth":1.6,"size":38,"color":"#8e8b18","opacity":1},"encoding":{"x":{"field":"g","type":"nominal","title":null},"xOffset":{"field":"l","type":"ordinal","scale":{"domain":[-2,-1,0,1,2],"paddingInner":0,"paddingOuter":1.25}},"y":{"field":"v","type":"quantitative","title":"log₁₀ Competitive Index"}}},
{"data":{"name":"pts"},"transform":[{"filter":"datum.p=='H' && (datum.g=='Scomp' || datum.g=='Lcomp')"}],"mark":{"type":"point","shape":"triangle-up","filled":true,"size":50,"color":"#8e8b18","opacity":1},"encoding":{"x":{"field":"g","type":"nominal","title":null},"xOffset":{"field":"l","type":"ordinal","scale":{"domain":[-2,-1,0,1,2],"paddingInner":0,"paddingOuter":1.25}},"y":{"field":"v","type":"quantitative","title":"log₁₀ Competitive Index"}}},
{"data":{"name":"sig"},"transform":[{"filter":"datum.p=='H'"}],"mark":{"type":"text","fontSize":9,"color":"#222","baseline":"middle"},"encoding":{"x":{"field":"g","type":"nominal","title":null},"y":{"field":"y","type":"quantitative","title":"log₁₀ Competitive Index"},"text":{"field":"t"}}},
{"data":{"name":"br"},"transform":[{"filter":"datum.p=='H'"}],"mark":{"type":"rule","color":"#333","strokeWidth":1.2},"encoding":{"x":{"field":"a","type":"nominal","title":null,"bandPosition":0.25},"x2":{"field":"b","bandPosition":0.75},"y":{"field":"y","type":"quantitative","title":"log₁₀ Competitive Index"}}},
{"data":{"name":"br"},"transform":[{"filter":"datum.p=='H'"}],"mark":{"type":"text","fontSize":9,"color":"#222","baseline":"middle"},"encoding":{"x":{"field":"a","type":"nominal","title":null,"bandPosition":1},"y":{"field":"ty","type":"quantitative","title":"log₁₀ Competitive Index"},"text":{"field":"t"}}},
{"data":{"name":"gr"},"transform":[{"filter":"datum.p=='H'"}],"mark":{"type":"rule","color":"#666","strokeWidth":1.5},"encoding":{"x":{"field":"a","type":"nominal","title":null,"bandPosition":0},"x2":{"field":"b","bandPosition":0.5},"y":{"datum":-8.17,"title":"log₁₀ Competitive Index"}}},
{"data":{"name":"gr"},"transform":[{"filter":"datum.p=='H'"}],"mark":{"type":"text","fontSize":10.5,"fontWeight":"bold","color":"black","baseline":"middle","dy":6},"encoding":{"x":{"field":"a","type":"nominal","title":null,"bandPosition":0.75},"y":{"datum":-8.17,"title":"log₁₀ Competitive Index"},"text":{"field":"t"}}},
{"data":{"name":"lab"},"transform":[{"filter":"datum.p=='H' && datum.sub=='ev'"}],"mark":{"type":"text","angle":-45,"align":"right","baseline":"middle","fontSize":10,"fontStyle":"italic","color":"black","dx":-19,"dy":8},"encoding":{"x":{"field":"g","type":"nominal","title":null},"y":{"datum":-4.75,"title":"log₁₀ Competitive Index"},"text":{"field":"gene"}}},
{"data":{"name":"lab"},"transform":[{"filter":"datum.p=='H' && datum.sub=='ev'"}],"mark":{"type":"text","angle":-45,"align":"right","baseline":"middle","fontSize":7,"color":"black","dx":-13,"dy":11},"encoding":{"x":{"field":"g","type":"nominal","title":null},"y":{"datum":-4.75,"title":"log₁₀ Competitive Index"},"text":{"field":"sub"}}},
{"data":{"name":"lab"},"transform":[{"filter":"datum.p=='H' && datum.sub!='ev'"}],"mark":{"type":"text","angle":-45,"align":"right","baseline":"middle","fontSize":10,"fontStyle":"italic","color":"black","dx":-66.3,"dy":8},"encoding":{"x":{"field":"g","type":"nominal","title":null},"y":{"datum":-4.75,"title":"log₁₀ Competitive Index"},"text":{"field":"gene"}}},
{"data":{"name":"lab"},"transform":[{"filter":"datum.p=='H' && datum.sub!='ev'"}],"mark":{"type":"text","angle":-45,"align":"right","baseline":"middle","fontSize":10,"color":"black","dx":-27.1,"dy":8},"encoding":{"x":{"field":"g","type":"nominal","title":null},"y":{"datum":-4.75,"title":"log₁₀ Competitive Index"},"text":{"field":"mid"}}},
{"data":{"name":"lab"},"transform":[{"filter":"datum.p=='H' && datum.sub!='ev'"}],"mark":{"type":"text","angle":-45,"align":"right","baseline":"middle","fontSize":7,"fontStyle":"italic","color":"black","dx":-13,"dy":11},"encoding":{"x":{"field":"g","type":"nominal","title":null},"y":{"datum":-4.75,"title":"log₁₀ Competitive Index"},"text":{"field":"sub"}}},
{"data":{"name":"ttl"},"transform":[{"filter":"datum.p=='H'"}],"mark":{"type":"text","fontSize":18,"fontWeight":"bold","color":"black","baseline":"middle","dx":-45,"dy":-11},"encoding":{"x":{"field":"g","type":"nominal","title":null},"y":{"datum":2.5,"title":"log₁₀ Competitive Index"},"text":{"field":"t"}}}
]}
],"spacing":47,"bounds":"flush"}
]
}
